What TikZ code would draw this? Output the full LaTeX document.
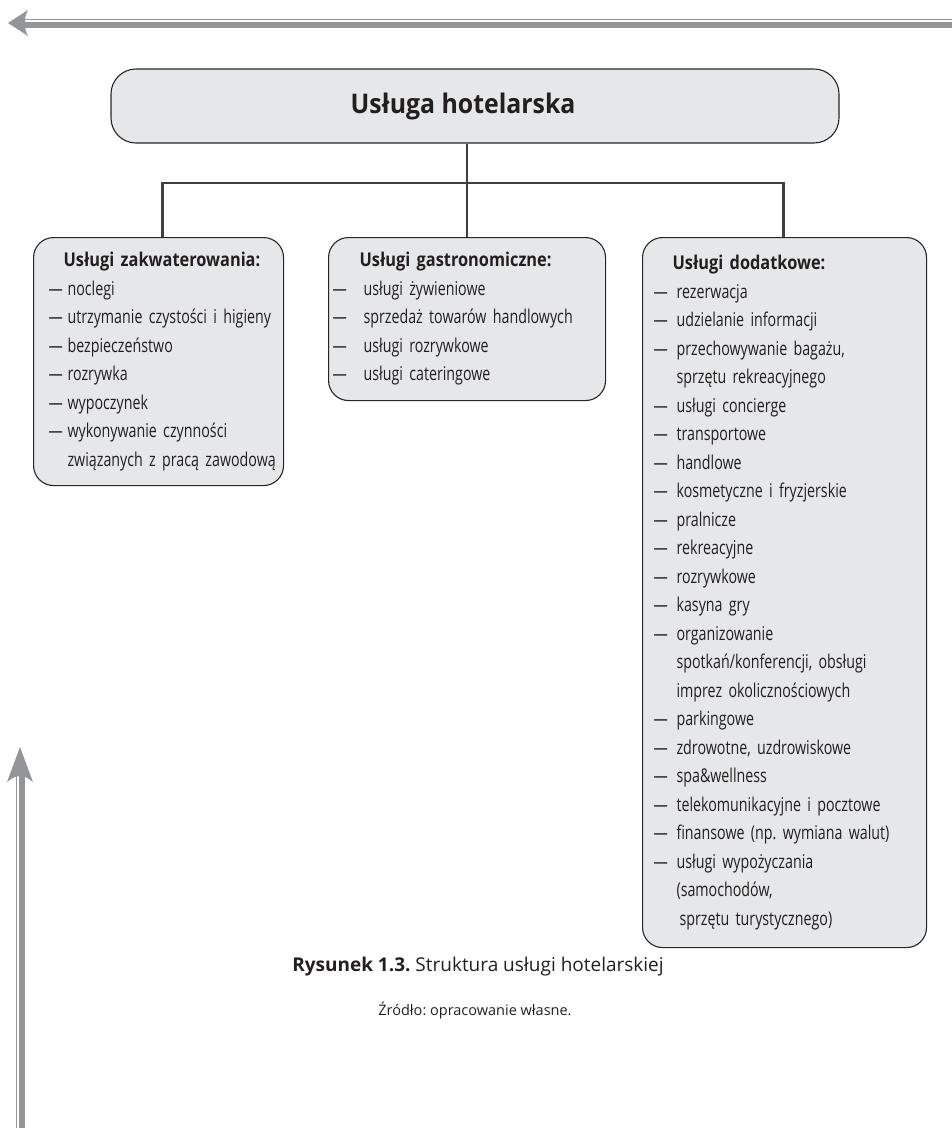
\documentclass[tikz,border=0pt]{standalone}
\usepackage{fontspec}
\setmainfont{Open Sans}
\newfontfamily\waski[FakeStretch=0.75]{Open Sans}
\newfontfamily\naglfont[FakeStretch=0.86]{Open Sans}
\newfontfamily\tytulfont[FakeStretch=0.92]{Open Sans}
\usepackage{tikz}
\usetikzlibrary{calc,positioning}
\definecolor{TloRamki}{HTML}{E6E7E8}
\definecolor{Tekst}{HTML}{231F20}
\definecolor{Strzalka}{HTML}{939598}
\newlength\kreskaL
\newlength\tekstL
\newcommand{\poz}[1]{\makebox[\tekstL][l]{\hspace*{\kreskaL}—}#1}
\newcommand{\dalej}[1]{\hspace*{\tekstL}#1}
\newcommand{\nagl}[1]{\hspace*{\dimexpr\tekstL-4pt\relax}{\naglfont\bfseries #1}}
\frenchspacing

\begin{document}
\begin{tikzpicture}[x=1pt,y=-1pt,
  ramka/.style={draw=black!85, line width=1.1pt, fill=TloRamki, rounded corners=20pt,
    inner xsep=0pt, inner ysep=0pt, anchor=north west, align=left, text=Tekst,
    font=\waski\fontsize{19}{28.5}\selectfont},
  tytul/.style={draw=black!85, line width=1.1pt, fill=TloRamki, rounded corners=25pt,
    minimum width=728pt, minimum height=74pt, text=Tekst,
    font=\tytulfont\bfseries\fontsize{27}{32}\selectfont},
  laczenie/.style={line width=2.6pt, draw=black!75}]
  \useasboundingbox (0,0) rectangle (952,1128);
  % strzalki na marginesach
  \fill[Strzalka] (25,19) rectangle (952,27.5);
  \fill[white] (25,20.3) rectangle (952,22.2);
  \fill[Strzalka] (8,23) -- (28,10) .. controls (25,17) .. (25,23) .. controls (25,29) .. (28,36) -- cycle;
  \fill[Strzalka] (16,776) rectangle (24.5,1128);
  \fill[white] (17.3,776) rectangle (19,1128);
  \fill[Strzalka] (20,747) -- (7,782) .. controls (14,777) .. (20,776) .. controls (26,777) .. (33,782) -- cycle;
  % glowna usluga
  \node[tytul] (usluga) at (475,106) {\raisebox{-3pt}{Usługa hotelarska}\hspace*{24pt}};
  % grupy uslug
  \node[ramka, text width=250pt, minimum height=248pt,
    execute at begin node={\setlength\kreskaL{15pt}\setlength\tekstL{34pt}}] (zakw) at (33,237)
    {\nagl{Usługi zakwaterowania:}\\
     \poz{noclegi}\\
     \poz{utrzymanie czystości i higieny}\\
     \poz{bezpieczeństwo}\\
     \poz{rozrywka}\\
     \poz{wypoczynek}\\
     \poz{wykonywanie czynności}\\
     \dalej{związanych z pracą zawodową}};
  \node[ramka, text width=277pt, minimum height=163pt,
    execute at begin node={\setlength\kreskaL{4pt}\setlength\tekstL{35pt}}] (gastro) at (328,237)
    {\nagl{Usługi gastronomiczne:}\\
     \poz{usługi żywieniowe}\\
     \poz{sprzedaż towarów handlowych}\\
     \poz{usługi rozrywkowe}\\
     \poz{usługi cateringowe}};
  \node[ramka, text width=284pt, minimum height=710pt,
    execute at begin node={\setlength\kreskaL{11pt}\setlength\tekstL{34pt}}] (dodat) at (642,237)
    {\nagl{Usługi dodatkowe:}\\
     \poz{rezerwacja}\\
     \poz{udzielanie informacji}\\
     \poz{przechowywanie bagażu,}\\
     \dalej{sprzętu rekreacyjnego}\\
     \poz{usługi concierge}\\
     \poz{transportowe}\\
     \poz{handlowe}\\
     \poz{kosmetyczne i fryzjerskie}\\
     \poz{pralnicze}\\
     \poz{rekreacyjne}\\
     \poz{rozrywkowe}\\
     \poz{kasyna gry}\\
     \poz{organizowanie}\\
     \dalej{spotkań/konferencji, obsługi}\\
     \dalej{imprez okolicznościowych}\\
     \poz{parkingowe}\\
     \poz{zdrowotne, uzdrowiskowe}\\
     \poz{spa\&wellness}\\
     \poz{telekomunikacyjne i pocztowe}\\
     \poz{finansowe (np. wymiana walut)}\\
     \poz{usługi wypożyczania}\\
     \dalej{(samochodów,}\\
     \dalej{\hspace*{3pt}sprzętu turystycznego)}};
  % polaczenia
  \coordinate (wezel) at (467,183);
  \draw[laczenie] (usluga.south -| wezel) -- (wezel);
  \draw[laczenie] ([xshift=4pt]zakw.north) |- (wezel) -| ([xshift=-1pt]dodat.north);
  \draw[laczenie] (wezel) -- (wezel |- gastro.north);
  % podpis
  \node[text=Tekst, font=\fontsize{19}{23}\selectfont] (podpis) at (478,967)
    {\textbf{Rysunek 1.3.} Struktura usługi hotelarskiej};
  \node[text=Tekst, font=\fontsize{14.5}{17}\selectfont] (zrodlo) at (475,1010)
    {Źródło: opracowanie własne.};
\end{tikzpicture}
\end{document}
